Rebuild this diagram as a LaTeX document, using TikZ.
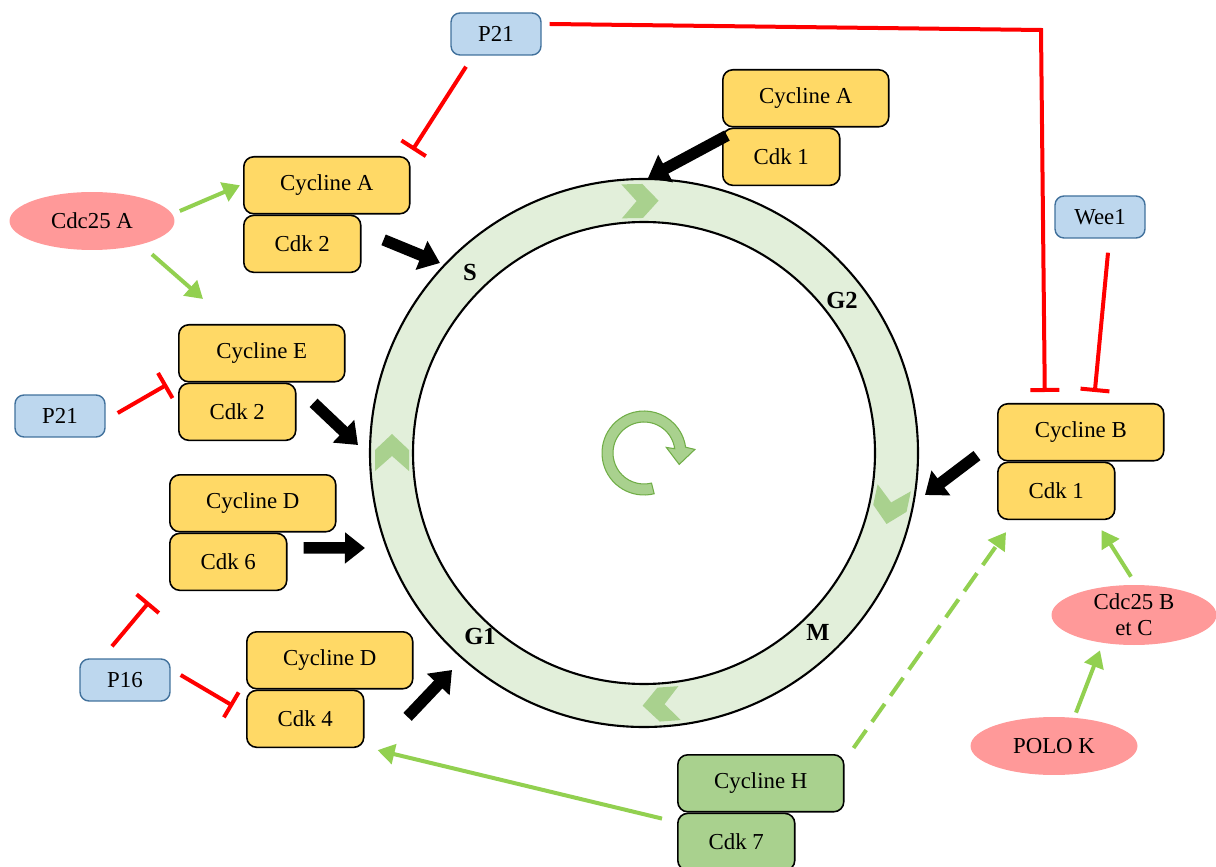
\documentclass[tikz,border=0pt]{standalone}
\usepackage{fontspec}
\setmainfont{Liberation Serif}
\usetikzlibrary{arrows.meta,positioning,calc,shapes.geometric}
\definecolor{cycyel}{HTML}{FFD966}
\definecolor{cycgrn}{HTML}{A9D18E}
\definecolor{ringgrn}{HTML}{E2EFDA}
\definecolor{inhblue}{HTML}{BDD7EE}
\definecolor{inhedge}{HTML}{41719C}
\definecolor{actpink}{HTML}{FF9999}
\definecolor{actgrn}{HTML}{92D050}
\definecolor{darkgrn}{HTML}{70AD47}

\begin{document}
\begin{tikzpicture}[x=0.02cm, y=0.02cm, font=\fontsize{13}{15}\selectfont]
    \tikzset{
      cyc/.style={draw, line width=0.9pt, rounded corners=0.2cm, fill=cycyel, minimum width=3.32cm, minimum height=1.14cm, inner sep=0pt, anchor=north west},
      cdk/.style={cyc, minimum width=2.34cm},
      inhib/.style={draw=inhedge, line width=0.8pt, rounded corners=0.18cm, fill=inhblue, minimum width=1.8cm, minimum height=0.84cm, inner sep=0pt},
      activ/.style={ellipse, fill=actpink, minimum width=3.3cm, minimum height=1.16cm, inner sep=0pt, align=center},
      phase/.style={font=\fontsize{14}{16}\selectfont\bfseries},
      blk/.style={line width=0.23cm, -{Triangle[length=0.4cm, width=0.6cm]}},
      inh/.style={draw=red, line width=0.08cm, -{Bar[width=0.58cm]}},
      act/.style={draw=actgrn, line width=0.08cm, -{Triangle[length=0.34cm, width=0.4cm]}},
      chevron/.pic={\fill[cycgrn] (-18,-17) -- (3,-17) -- (19,0) -- (3,17) -- (-18,17) -- (-3,0) -- cycle;},
    }
    \useasboundingbox (0,0) rectangle (1216,866);

    % the cycle
    \coordinate (c) at (644,413);
    \fill[ringgrn, even odd rule] (c) circle[radius=274] (c) circle[radius=231];
    \draw[line width=1.2pt] (c) circle[radius=274];
    \draw[line width=1.2pt] (c) circle[radius=231];
    \pic[rotate=1] at ($(c)+(91:252)$) {chevron};
    \pic[rotate=-102] at ($(c)+(-12:252)$) {chevron};
    \pic[rotate=-176] at ($(c)+(-86:252)$) {chevron};
    \pic[rotate=90] at ($(c)+(180:252)$) {chevron};
    \filldraw[fill=cycgrn, draw=darkgrn, line width=0.6pt]
      ($(c)+(284:42)$) arc[start angle=284, end angle=8, radius=42]
      -- ($(c)+(4:51)$) -- ($(c)+(-18:37)$) -- ($(c)+(14:23)$) -- ($(c)+(8:31)$)
      arc[start angle=8, end angle=284, radius=31] -- cycle;

    \node[phase] (lS)  at (470,594) {S};
    \node[phase] (lG2) at (842,566) {G2};
    \node[phase] (lM)  at (818,234) {M};
    \node[phase] (lG1) at (480,230) {G1};

    % complexes
    \node[cyc] (cycAt) at (722,797) {Cycline A};
    \node[cdk] (cdkAt) at (cycAt.south west) {Cdk 1};
    \node[cyc] (cycAs) at (243,710) {Cycline A};
    \node[cdk] (cdkAs) at (cycAs.south west) {Cdk 2};
    \node[cyc] (cycE) at (178,542) {Cycline E};
    \node[cdk] (cdkE) at (cycE.south west) {Cdk 2};
    \node[cyc] (cycDa) at (169,392) {Cycline D};
    \node[cdk] (cdkDa) at (cycDa.south west) {Cdk 6};
    \node[cyc] (cycDb) at (246,235) {Cycline D};
    \node[cdk] (cdkDb) at (cycDb.south west) {Cdk 4};
    \node[cyc] (cycB) at (997,463) {Cycline B};
    \node[cdk] (cdkB) at (cycB.south west) {Cdk 1};
    \node[cyc, fill=cycgrn] (cycH) at (677,112) {Cycline H};
    \node[cdk, fill=cycgrn] (cdkH) at (cycH.south west) {Cdk 7};

    % regulators
    \node[inhib] (p21a) at (496,832) {P21};
    \node[inhib] (wee) at (1100,649) {Wee1};
    \node[inhib] (p21b) at (60,450) {P21};
    \node[inhib] (p16) at (125,186) {P16};
    \node[activ] (cdcA) at (92,645) {Cdc25 A};
    \node[activ, minimum height=1.2cm] (cdcBC) at (1134,251) {Cdc25 B\\et C};
    \node[activ, minimum width=3.34cm] (polo) at (1054,120) {POLO K};

    % entry into the cycle
    \coordinate (toS) at (440,603);
    \coordinate (toG2) at (648,688);
    \coordinate (toE) at (358,421);
    \coordinate (toD6) at (365,318);
    \coordinate (toD4) at (452,196);
    \coordinate (toB) at (925,371);
    \draw[blk] ($(cdkAs.east)+(22,4)$) -- (toS);
    \draw[blk] ($(cdkAt.north west)+(5,-8)$) -- (toG2);
    \draw[blk] ($(cdkE.east)+(17,9)$) -- (toE);
    \draw[blk] ($(cdkDa.east)+(16,14)$) -- (toD6);
    \draw[blk] ($(cdkDb.east)+(43,2)$) -- (toD4);
    \draw[blk] ($(cycB.south west)+(-20,6)$) -- (toB);

    % inhibitions
    \coordinate (bend) at (1041,836);
    \draw[inh] ($(p21a.south)+(-30,-11)$) -- ($(cycAs.north east)+(2,6)$);
    \draw[inh] ($(p21a.east)+(8,10)$) -- (bend) -- ($(cycB.north)+(-36,11)$);
    \draw[inh] ($(wee.south)+(8,-14)$) -- ($(cycB.north)+(14,11)$);
    \draw[inh] ($(p21b.east)+(12,3)$) -- ($(cycE.south west)+(-11,-2)$);
    \draw[inh] ($(p16.north)+(-13,12)$) -- ($(cdkDa.south west)+(-20,-11)$);
    \draw[inh] ($(p16.east)+(10,5)$) -- ($(cdkDb.west)+(-13,13)$);

    % activations
    \draw[act] ($(cdcA.east)+(5,10)$) -- ($(cycAs.west)+(-3,0)$);
    \draw[act] ($(cdcA.south)+(60,-4)$) -- ($(cycE.north west)+(25,25)$);
    \draw[act] ($(cdcBC.north)+(-3,8)$) -- ($(cdkB.south east)+(-14,-10)$);
    \draw[act] ($(polo.north)+(22,4)$) -- ($(cdcBC.south)+(-34,-5)$);
    \draw[act] ($(cdkH.north west)+(-15,-6)$) -- ($(cdkDb.south east)+(13,-2)$);
    \draw[act, dash pattern=on 0.44cm off 0.2cm] ($(cycH.north east)+(9,6)$) -- ($(cdkB.south west)+(9,-12)$);
  \end{tikzpicture}
\end{document}
